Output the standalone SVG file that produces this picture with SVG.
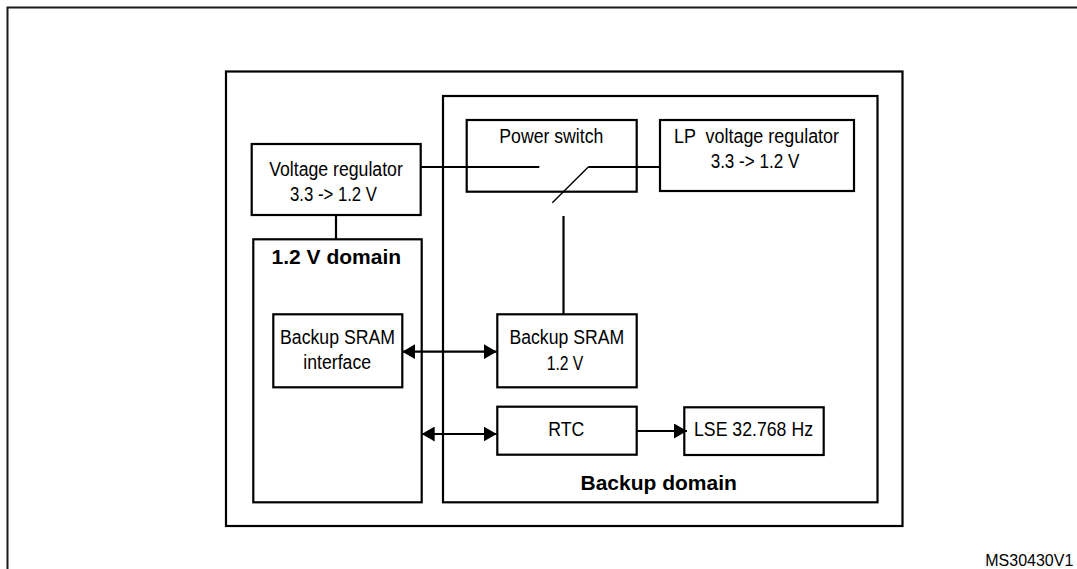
<svg xmlns="http://www.w3.org/2000/svg" width="1077" height="569" viewBox="0 0 1077 569">
<style>
.box{fill:none;stroke:#000;stroke-width:2.2}
.frame{fill:none;stroke:#1a1a1a;stroke-width:2}
.ln{fill:none;stroke:#000;stroke-width:2.2}
.thin{fill:none;stroke:#000;stroke-width:1.4}
.t{font-family:"Liberation Sans",Arial,sans-serif;font-size:20px;fill:#000;text-anchor:middle}
.b{font-family:"Liberation Sans",Arial,sans-serif;font-size:21px;font-weight:bold;fill:#000;text-anchor:middle}
.id{font-family:"Liberation Sans",Arial,sans-serif;font-size:16px;fill:#000;text-anchor:end}
</style>
<defs>
<marker id="ah" markerUnits="userSpaceOnUse" markerWidth="14" markerHeight="15" refX="13" refY="7.5" orient="auto-start-reverse" viewBox="0 0 14 15">
<path d="M0,0 L13,7.5 L0,15 Z" fill="#000"/>
</marker>
</defs>
<rect width="1077" height="569" fill="#fff"/>
<path class="frame" d="M7.5,569 L7.5,7.5 L1077,7.5"/>
<g id="outer"><rect class="box" x="226" y="71.5" width="676.5" height="454.5"/></g>
<g id="backup-domain">
<rect class="box" x="443" y="96" width="434.5" height="406.3"/>
<text class="b" x="658.7" y="489.5">Backup domain</text>
</g>
<g id="domain-1v2">
<rect class="box" x="253.3" y="239.3" width="168.4" height="263"/>
<text class="b" x="336.3" y="264">1.2 V domain</text>
</g>
<g id="voltage-regulator">
<rect class="box" x="251.7" y="144" width="169" height="71"/>
<text class="t" x="336" y="176" textLength="133.7" lengthAdjust="spacingAndGlyphs">Voltage regulator</text>
<text class="t" x="333.5" y="200.5" textLength="87" lengthAdjust="spacingAndGlyphs">3.3 -&gt; 1.2 V</text>
</g>
<g id="power-switch">
<rect class="box" x="466.7" y="120" width="170" height="71.7"/>
<text class="t" x="551.3" y="143.3" textLength="104" lengthAdjust="spacingAndGlyphs">Power switch</text>
</g>
<g id="lp-regulator">
<rect class="box" x="660" y="120" width="194" height="71"/>
<text class="t" x="756.5" y="143.3" textLength="165" lengthAdjust="spacingAndGlyphs" xml:space="preserve">LP  voltage regulator</text>
<text class="t" x="755" y="168.3" textLength="88.7" lengthAdjust="spacingAndGlyphs">3.3 -&gt; 1.2 V</text>
</g>
<g id="sram-interface">
<rect class="box" x="273.3" y="314.3" width="129" height="73"/>
<text class="t" x="337.5" y="344.3" textLength="115" lengthAdjust="spacingAndGlyphs">Backup SRAM</text>
<text class="t" x="337.2" y="369" textLength="67.7" lengthAdjust="spacingAndGlyphs">interface</text>
</g>
<g id="backup-sram">
<rect class="box" x="497.3" y="314.3" width="139.4" height="73"/>
<text class="t" x="566.8" y="344.3" textLength="114.7" lengthAdjust="spacingAndGlyphs">Backup SRAM</text>
<text class="t" x="565" y="370" textLength="36.7" lengthAdjust="spacingAndGlyphs">1.2 V</text>
</g>
<g id="rtc">
<rect class="box" x="497.3" y="406.7" width="139.4" height="48"/>
<text class="t" x="566.3" y="436" textLength="36" lengthAdjust="spacingAndGlyphs">RTC</text>
</g>
<g id="lse">
<rect class="box" x="684.3" y="407.3" width="139.4" height="47.7"/>
<text class="t" x="753.5" y="436" textLength="119" lengthAdjust="spacingAndGlyphs">LSE 32.768 Hz</text>
</g>
<g id="connectors">
<line class="ln" x1="336" y1="215" x2="336" y2="239.3"/>
<line class="ln" x1="420.7" y1="167" x2="539.3" y2="167"/>
<line class="ln" x1="660" y1="167" x2="588.3" y2="167"/>
<line class="thin" x1="588.3" y1="167" x2="552.3" y2="202.7"/>
<line class="ln" x1="563.5" y1="216" x2="563.5" y2="314.3"/>
<line class="ln" x1="402.3" y1="351.7" x2="496.7" y2="351.7" marker-start="url(#ah)" marker-end="url(#ah)"/>
<line class="ln" x1="421.7" y1="434" x2="496.7" y2="434" marker-start="url(#ah)" marker-end="url(#ah)"/>
<line class="ln" x1="636.7" y1="431" x2="687" y2="431" marker-end="url(#ah)"/>
</g>
<text class="id" x="1073.3" y="566">MS30430V1</text>
</svg>
